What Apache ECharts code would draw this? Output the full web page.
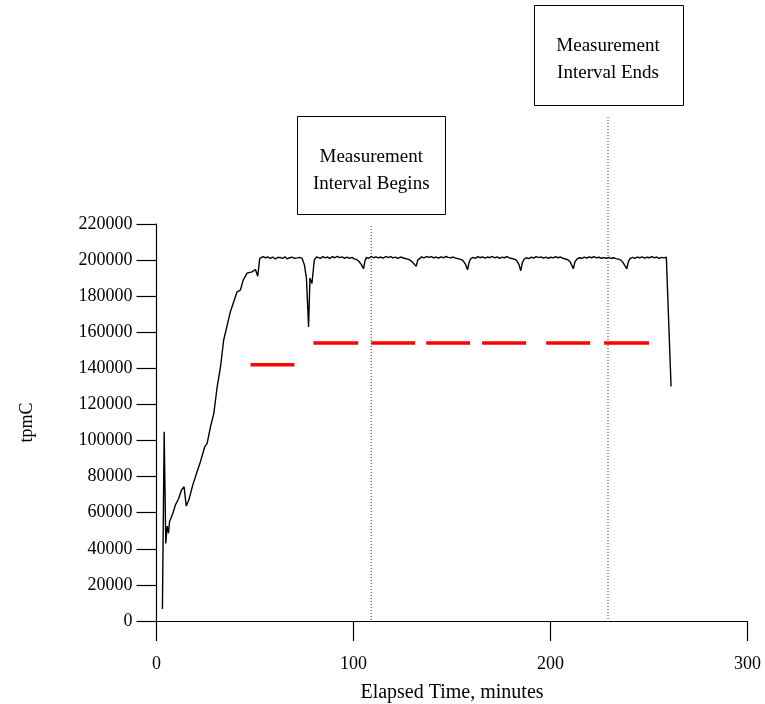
<!DOCTYPE html>
<html>
<head>
<meta charset="utf-8">
<script src="https://cdn.jsdelivr.net/npm/echarts@6/dist/echarts.min.js"></script>
<style>
  html, body { margin: 0; padding: 0; background: #fff; }
  #chart { width: 765px; height: 704px; }
</style>
</head>
<body>
<div id="chart"></div>
<script>
// Throughput over the run (minutes, tpmC)
const elapsedMinutes = [
  3.0, 3.9, 4.7, 5.4, 6.1, 6.6, 8.3, 9.6, 11.3, 12.7, 14.0, 15.1, 16.4, 18.4, 20.6,
  22.3, 24.5, 25.7, 27.4, 29.1, 30.8, 32.5, 34.1, 35.9, 37.5, 39.2, 40.9, 42.6, 44.0,
  46.0, 48.5, 50.2, 51.4, 52.4, 53.1, 54.2, 55.3, 56.4, 57.8, 59.0, 60.3, 61.5, 62.9,
  64.0, 65.2, 66.3, 67.6, 68.8, 70.1, 71.5, 72.8, 73.9, 75.1, 76.1, 77.2, 77.9, 78.9,
  80.1, 81.2, 82.2, 83.3, 84.4, 85.6, 86.8, 88.0, 89.3, 90.5, 91.8, 93.0, 94.2, 95.5,
  96.7, 98.0, 99.2, 100.4, 101.6, 102.8, 104.0, 105.1, 105.8, 106.6, 107.8, 109.0,
  110.2, 111.4, 112.7, 113.9, 115.1, 116.4, 117.6, 118.8, 120.1, 121.3, 122.5, 123.8,
  125.0, 126.2, 127.5, 128.7, 130.0, 131.8, 132.6, 133.4, 134.6, 135.8, 137.0, 138.3,
  139.5, 140.7, 142.0, 143.2, 144.4, 145.7, 146.9, 148.1, 149.4, 150.6, 151.8, 153.0,
  154.3, 155.5, 156.8, 157.9, 158.6, 159.4, 160.6, 161.8, 163.1, 164.3, 165.5, 166.8,
  168.0, 169.2, 170.5, 171.7, 172.9, 174.2, 175.4, 176.6, 177.9, 179.1, 180.3, 181.6,
  182.8, 184.0, 184.9, 185.7, 186.6, 187.8, 189.0, 190.3, 191.5, 192.7, 194.0, 195.2,
  196.4, 197.7, 198.9, 200.1, 201.4, 202.6, 203.8, 205.1, 206.3, 207.5, 208.8, 210.0,
  211.6, 212.4, 213.5, 214.7, 215.9, 217.2, 218.4, 219.6, 220.9, 222.1, 223.3, 224.6,
  225.8, 227.0, 228.3, 229.5, 230.7, 232.0, 233.2, 234.4, 235.7, 236.9, 238.7, 239.5,
  240.4, 241.6, 242.8, 244.1, 245.3, 246.5, 247.8, 249.0, 250.2, 251.5, 252.7, 253.9,
  255.2, 256.4, 257.6, 258.8, 259.8, 261.2
];
const tpmC = [
  6600, 104900, 43000, 52600, 48700, 55000, 59700, 64300, 68000, 72600, 74400, 63700, 67000, 75300, 82700,
  88300, 96600, 98400, 107600, 115100, 129800, 140900, 155700, 164000, 171400, 176900, 182400, 183400, 188900,
  192800, 193500, 194800, 191100, 200900, 201300, 201900, 201200, 201800, 201000, 201700, 200600, 201500, 201400,
  200900, 201800, 200700, 201300, 201600, 201000, 201200, 201500, 201000, 197200, 190000, 163000, 190000, 187000,
  200000, 201800, 201500, 200900, 202000, 201200, 201700, 201000, 201900, 201300, 202100, 201400, 201800, 201000,
  201600, 200900, 201500, 200700, 200300, 199200, 197500, 195200, 199500, 201500, 201000, 202000,
  201300, 201800, 201200, 201700, 201100, 202000, 201400, 201900, 201200, 201600, 201000, 201700,
  201300, 200900, 200500, 200000, 198800, 196500, 200000, 201000, 201800, 201200, 202000, 201500,
  201900, 201200, 201700, 201100, 201800, 201300, 202000, 201500, 201200, 201700, 201100, 200800,
  200400, 199800, 197800, 194600, 198500, 200600, 201500, 201000, 201900, 201300, 201800, 201100,
  201700, 201300, 202000, 201200, 201800, 201000, 201600, 201300, 201900, 201200, 200900, 200500,
  199800, 197500, 194100, 198500, 200500, 201300, 200800, 201600, 201100, 201900, 201400, 201800,
  201100, 201700, 201000, 201600, 201200, 201900, 201300, 201700, 201000, 200600, 200200, 199000,
  195200, 199000, 200700, 201300, 200900, 201700, 201100, 201800, 201300, 201900, 201200, 201600,
  201000, 201400, 201000, 201500, 200900, 201300, 200800, 200500, 200000, 198500, 195200, 199000,
  200800, 201500, 201000, 201700, 201200, 201800, 201100, 201600, 201300, 201900, 201200, 201700,
  201000, 201500, 201200, 201600, 200600, 130000
];

// Reported throughput levels (red dashes): start, end, level
const levelStart = [47.7, 79.6, 109.0, 136.9, 165.3, 197.8, 227.2];
const levelEnd   = [70.0, 102.4, 131.3, 159.2, 187.6, 220.1, 250.0];
const levelValue = [142000, 154000, 154000, 154000, 154000, 154000, 154000];

// Measurement interval boundaries
const intervalMarks = [109.0, 229.2];
const intervalLabels = [['Measurement', 'Interval Begins'], ['Measurement', 'Interval Ends']];

// Axis ticks
const xTicks = [0, 100, 200, 300];
const yTickStep = 20000;
const yMax = 220000;

const FONT = "'Liberation Serif', 'Times New Roman', serif";

const lineData = elapsedMinutes.map((t, i) => [t, tpmC[i]]);
const levelData = [];
levelStart.forEach((s, i) => {
  if (i > 0) levelData.push(['-', '-']);
  levelData.push([s, levelValue[i]]);
  levelData.push([levelEnd[i], levelValue[i]]);
});

const chart = echarts.init(document.getElementById('chart'), null, { renderer: 'canvas' });

const axisCommon = {
  axisLine: { show: true, lineStyle: { color: '#000', width: 1.2 } },
  axisTick: { show: true, length: 20, inside: false, lineStyle: { color: '#000', width: 1.2 } },
  splitLine: { show: false },
  nameTextStyle: { color: '#000', fontFamily: FONT, fontSize: 18 },
  axisLabel: { color: '#000', fontFamily: FONT, fontSize: 18, formatter: v => String(v) }
};

chart.setOption({
  animation: false,
  backgroundColor: '#fff',
  grid: { left: 156.5, right: 17.5, top: 224, bottom: 83, containLabel: false, outerBoundsMode: 'none' },
  xAxis: Object.assign({}, axisCommon, {
    type: 'value',
    min: xTicks[0],
    max: xTicks[xTicks.length - 1],
    interval: xTicks[1] - xTicks[0],
    name: 'Elapsed Time, minutes',
    nameLocation: 'middle',
    nameGap: 62,
    nameTextStyle: Object.assign({}, axisCommon.nameTextStyle, { fontSize: 20, verticalAlign: 'top' }),
    axisLabel: Object.assign({}, axisCommon.axisLabel, { margin: 34 })
  }),
  yAxis: Object.assign({}, axisCommon, {
    type: 'value',
    min: 0,
    max: yMax,
    interval: yTickStep,
    name: 'tpmC',
    nameLocation: 'middle',
    nameGap: 120,
    axisLabel: Object.assign({}, axisCommon.axisLabel, { margin: 24 })
  }),
  series: [
    {
      type: 'line',
      data: lineData,
      showSymbol: false,
      symbol: 'none',
      lineStyle: { color: '#000', width: 1.4 },
      z: 3
    },
    {
      type: 'line',
      data: levelData,
      showSymbol: false,
      symbol: 'none',
      connectNulls: false,
      lineStyle: { color: '#ff0000', width: 3.5 },
      z: 2
    }
  ]
});

// Interval boundary lines and their caption boxes
const boxes = [
  { top: 116, width: 148, height: 98 },
  { top: 5, width: 149, height: 100 }
];
const axisY = chart.convertToPixel({ yAxisIndex: 0 }, 0);
const graphics = [];
intervalMarks.forEach((m, i) => {
  const px = chart.convertToPixel({ xAxisIndex: 0 }, m);
  const b = boxes[i];
  graphics.push({
    type: 'line',
    shape: { x1: px, y1: b.top + b.height + 12, x2: px, y2: axisY },
    style: { stroke: '#333', lineWidth: 1, lineDash: [1, 2] },
    z: 1
  });
  graphics.push({
    type: 'rect',
    shape: { x: Math.round(px - b.width / 2) + 0.5, y: b.top + 0.5, width: b.width, height: b.height },
    style: { fill: '#fff', stroke: '#000', lineWidth: 1 },
    z: 5
  });
  intervalLabels[i].forEach((txt, j) => {
    graphics.push({
      type: 'text',
      x: px,
      y: b.top + 41 + j * 27,
      style: {
        text: txt, fill: '#000', font: '19px ' + FONT,
        textAlign: 'center', textVerticalAlign: 'middle'
      },
      z: 6
    });
  });
});
chart.setOption({ graphic: graphics });
</script>
</body>
</html>
